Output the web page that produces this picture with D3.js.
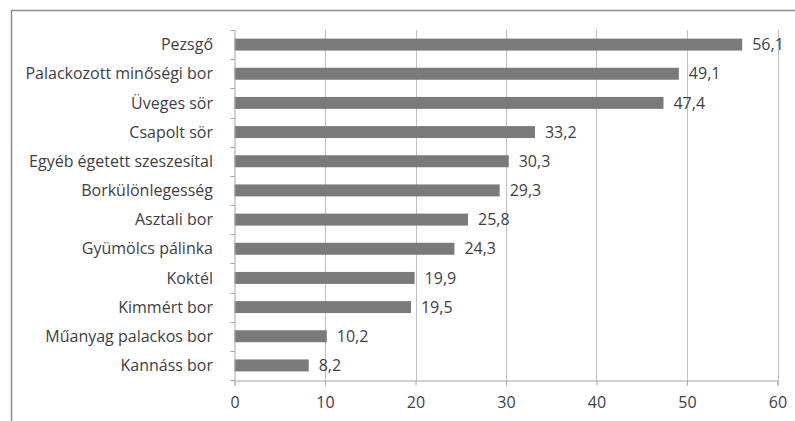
<!DOCTYPE html>
<html>
<head>
<meta charset="utf-8">
<script src="https://cdn.jsdelivr.net/npm/d3@7"></script>
<style>
  html, body { margin: 0; padding: 0; background: #fff; }
  svg { display: block; }
  text { font-family: "Open Sans", "Liberation Sans", sans-serif; fill: #404040; }
</style>
</head>
<body>
<svg id="chart" width="795" height="421"></svg>
<script>
// Categories (top to bottom) and their values
const categories = [
  "Pezsgő",
  "Palackozott minőségi bor",
  "Üveges sör",
  "Csapolt sör",
  "Egyéb égetett szeszesítal",
  "Borkülönlegesség",
  "Asztali bor",
  "Gyümölcs pálinka",
  "Koktél",
  "Kimmért bor",
  "Műanyag palackos bor",
  "Kannáss bor"
];
const values = [56.1, 49.1, 47.4, 33.2, 30.3, 29.3, 25.8, 24.3, 19.9, 19.5, 10.2, 8.2];
const xTicks = [0, 10, 20, 30, 40, 50, 60];

const svg = d3.select("#chart");
const W = 795, H = 421;
const plot = { left: 234.5, right: 777.5, top: 30, bottom: 380 };
const FS = 16;

// Outer chart frame (right and bottom edges run past the canvas)
svg.append("rect")
  .attr("x", 11.5).attr("y", 10.5)
  .attr("width", W + 10).attr("height", H + 10)
  .attr("fill", "#fff")
  .attr("stroke", "#8c8c8c")
  .attr("stroke-width", 1.5);

const x = d3.scaleLinear().domain([0, 60]).range([plot.left, plot.right]);
const y = d3.scaleBand().domain(categories).range([plot.top, plot.bottom]).paddingInner(0.59).paddingOuter(0.295);
const yb = d3.scaleBand().domain(categories).range([plot.top, plot.bottom]);

// Vertical gridlines
svg.append("g")
  .selectAll("line")
  .data(xTicks.slice(1))
  .join("line")
  .attr("x1", d => Math.round(x(d)) + 0.5)
  .attr("x2", d => Math.round(x(d)) + 0.5)
  .attr("y1", plot.top)
  .attr("y2", plot.bottom)
  .attr("stroke", "#bfbfbf")
  .attr("stroke-width", 1);

// Bars
svg.append("g")
  .selectAll("rect")
  .data(values)
  .join("rect")
  .attr("x", x(0))
  .attr("y", (d, i) => y(categories[i]))
  .attr("width", d => x(d) - x(0))
  .attr("height", y.bandwidth())
  .attr("fill", "#7a7a7a");

// Value labels
svg.append("g")
  .selectAll("text")
  .data(values)
  .join("text")
  .attr("x", d => x(d) + 10)
  .attr("y", (d, i) => y(categories[i]) + y.bandwidth() / 2)
  .attr("dy", "0.35em")
  .attr("font-size", FS)
  .text(d => d3.format(".1f")(d).replace(".", ","));

// X axis
const xAxis = svg.append("g")
  .attr("transform", `translate(0,${plot.bottom + 0.5})`)
  .call(d3.axisBottom(x).tickValues(xTicks).tickSize(5).tickPadding(11).tickFormat(d3.format("d")));
xAxis.select(".domain").attr("stroke", "#a6a6a6");
xAxis.selectAll(".tick line").attr("stroke", "#a6a6a6");
xAxis.selectAll(".tick text").attr("font-size", FS).attr("fill", "#404040")
  .attr("font-family", "'Open Sans', 'Liberation Sans', sans-serif");

// Y axis line with boundary ticks
svg.append("line")
  .attr("x1", plot.left + 0.5).attr("x2", plot.left + 0.5)
  .attr("y1", plot.top).attr("y2", plot.bottom)
  .attr("stroke", "#a6a6a6");
svg.append("g")
  .selectAll("line")
  .data(d3.range(categories.length + 1))
  .join("line")
  .attr("x1", plot.left - 4).attr("x2", plot.left)
  .attr("y1", i => Math.round(plot.top + i * yb.step()) + 0.5)
  .attr("y2", i => Math.round(plot.top + i * yb.step()) + 0.5)
  .attr("stroke", "#a6a6a6");

// Category labels
svg.append("g")
  .selectAll("text")
  .data(categories)
  .join("text")
  .attr("x", 213)
  .attr("y", d => yb(d) + yb.bandwidth() / 2)
  .attr("dy", "0.35em")
  .attr("text-anchor", "end")
  .attr("font-size", FS)
  .text(d => d);
</script>
</body>
</html>
